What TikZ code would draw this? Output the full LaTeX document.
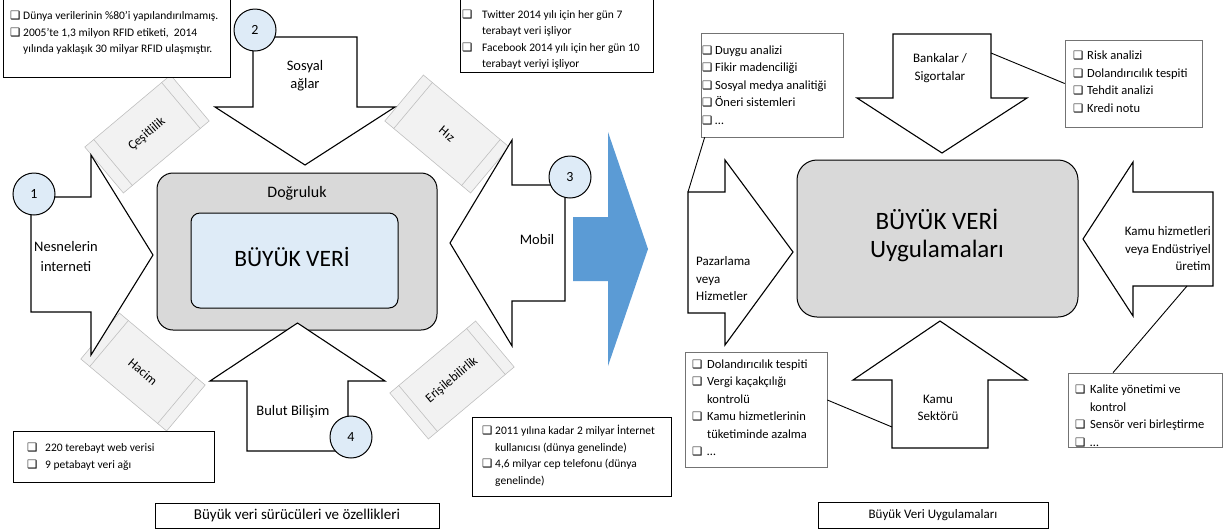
\documentclass[tikz,border=0pt]{standalone}
\usepackage{fontspec}
\setmainfont{Carlito}
\newfontfamily\symf{DejaVu Sans}
\usetikzlibrary{calc,shadows}

\definecolor{coregray}{HTML}{D9D9D9}
\definecolor{paleblue}{HTML}{DEEBF7}
\definecolor{tabfill}{HTML}{F2F2F2}
\definecolor{tabedge}{HTML}{BFBFBF}
\definecolor{flowblue}{HTML}{5B9BD5}

\newcommand\fs[2]{\fontsize{#1}{#2}\selectfont}
\newcommand\chk[1][13pt]{\makebox[#1][l]{\fontsize{11.5}{11.5}\symf ❑}}
\newcommand\ind[1][13pt]{\hspace*{#1}}

\begin{document}
\begin{tikzpicture}[x=1pt,y=-1pt,
  shapearrow/.style={draw=black,line width=1.1pt,fill=white,line join=miter},
  numdisc/.style={circle,draw=black,line width=1pt,fill=paleblue,minimum size=42pt,inner sep=0pt,font=\fs{14}{14}},
  tab/.style={draw=tabedge,line width=0.6pt,fill=tabfill,minimum width=112pt,minimum height=60pt,inner sep=0pt,font=\fs{13}{13}},
  tabbar/.style={draw=tabedge,line width=0.6pt},
  plainbox/.style={draw=black,line width=0.7pt,fill=white,inner sep=0pt},
  shadebox/.style={draw=black!55,line width=0.7pt,fill=white,inner sep=0pt,
    drop shadow={shadow xshift=1.2pt,shadow yshift=-1.2pt,fill=black!60,opacity=0.8}},
  smalllist/.style={anchor=west,align=left,inner sep=0pt,font=\fs{11.5}{16.5}},
  biglist/.style={anchor=west,align=left,inner sep=0pt,font=\fs{12.5}{17.5}},
  leftlabel/.style={align=center,inner sep=0pt,font=\fs{14.5}{20}},
  rightlabel/.style={inner sep=0pt,font=\fs{13}{17.5}},
  callout/.style={draw=black,line width=0.9pt},
  capbox/.style={draw=black,line width=0.7pt,fill=white,inner sep=0pt}
]
\useasboundingbox (0,0) rectangle (1225,531);

% ---------------- left: drivers and properties ----------------
% tilted property tabs
\node[tab,rotate=40]  (cesit)  at (147,134) {Çeşitlilik};
\node[tab,rotate=-40] (hiz)    at (447,134) {Hız};
\node[tab,rotate=-40] (hacim)  at (143,372) {Hacim};
\node[tab,rotate=40]  (erisim) at (452,380) {Erişilebilirlik};
\foreach \t in {cesit,hiz,hacim,erisim}{
  \draw[tabbar] ($(\t.north west)!12pt!(\t.north east)$) -- ($(\t.south west)!12pt!(\t.south east)$);
  \draw[tabbar] ($(\t.north east)!12pt!(\t.north west)$) -- ($(\t.south east)!12pt!(\t.south west)$);
}

% core block
\node[draw=black,line width=1pt,rounded corners=16pt,fill=coregray,minimum width=280pt,minimum height=157pt] (core) at (297,251.5) {};
\node[inner sep=0pt,font=\fs{16}{16}] (dogru) at (297,193) {Doğruluk};
\node[draw=black,line width=1pt,rounded corners=9pt,fill=paleblue,minimum width=207pt,minimum height=95pt] (bigdata) at (294.5,260.5) {};
\node[inner sep=0pt,font=\fs{23.5}{23.5}] (bigdatatxt) at (292,257) {BÜYÜK VERİ};

% four driver arrows
\draw[shapearrow] (31,197) -- (91,197) -- (91,155) -- (153,255) -- (91,355) -- (91,312) -- (31,312) -- cycle;
\draw[shapearrow] (253,37) -- (357,37) -- (357,107) -- (395,107) -- (305,165) -- (215,107) -- (253,107) -- cycle;
\draw[shapearrow] (565,185) -- (565,301) -- (512,301) -- (512,346) -- (450,243) -- (512,140) -- (512,185) -- cycle;
\draw[shapearrow] (247,451) -- (348,451) -- (348,381) -- (385,381) -- (297.5,323) -- (210,381) -- (247,381) -- cycle;

\node[leftlabel] (nesne) at (66,257) {Nesnelerin\\interneti};
\node[leftlabel,font=\fs{14.5}{18}] (sosyal) at (305,76) {Sosyal\\ağlar};
\node[leftlabel] (mobil) at (537,240) {Mobil};
\node[leftlabel] (bulut) at (293,412) {Bulut Bilişim};

\node[numdisc] (n1) at (34,194) {1};
\node[numdisc] (n2) at (255,30) {2};
\node[numdisc] (n3) at (570,177) {3};
\node[numdisc] (n4) at (351,437) {4};

% fact boxes
\node[plainbox,minimum width=227pt,minimum height=90pt] (tlbox) at (116.5,32) {};
\node[smalllist] (tltxt) at (10,33) {\chk Dünya verilerinin \%80'i yapılandırılmamış.\\
  \chk 2005'te 1,3 milyon RFID etiketi,\ \ 2014\\
  \ind yılında yaklaşık 30 milyar RFID ulaşmıştır.};
\node[plainbox,minimum width=193pt,minimum height=80pt] (twbox) at (556.5,32) {};
\node[smalllist] (twtxt) at (462,40) {\chk[20pt]Twitter 2014 yılı için her gün 7\\
  \ind[20pt]terabayt veri işliyor\\
  \chk[20pt]Facebook 2014 yılı için her gün 10\\
  \ind[20pt]terabayt veriyi işliyor};
\node[plainbox,minimum width=201pt,minimum height=51pt] (webbox) at (113.5,456.5) {};
\node[smalllist] (webtxt) at (27,457) {\chk[18pt]220 terebayt web verisi\\
  \chk[18pt]9 petabayt veri ağı};
\node[plainbox,minimum width=199pt,minimum height=79pt] (netbox) at (571.5,456.5) {};
\node[smalllist] (nettxt) at (482,456) {\chk 2011 yılına kadar 2 milyar İnternet\\
  \ind kullanıcısı (dünya genelinde)\\
  \chk 4,6 milyar cep telefonu (dünya\\
  \ind genelinde)};

\node[capbox,minimum width=284pt,minimum height=25pt,font=\fs{15}{15}] (capleft) at (297,515.5) {Büyük veri sürücüleri ve özellikleri};

% middle flow arrow
\fill[flowblue] (573,217) -- (608,217) -- (608,132) -- (648,249) -- (608,366) -- (608,281) -- (573,281) -- cycle;

% ---------------- right: applications ----------------
\node[draw=black,line width=1pt,rounded corners=20pt,fill=coregray,minimum width=281pt,minimum height=157pt] (apps) at (937.5,238.5) {};
\node[inner sep=0pt,align=center,font=\fs{25}{28}] (appstxt) at (937,235) {BÜYÜK VERİ\\Uygulamaları};

\draw[shapearrow] (688,192) coordinate (pzcorner) -- (725,192) -- (725,160) -- (793,252) -- (725,345) -- (725,313) -- (688,313) -- cycle;
\draw[shapearrow] (893,34) -- (991,34) -- (991,98) -- (1027,98) -- (942,153) -- (857,98) -- (893,98) -- cycle;
\draw[shapearrow] (1213,192) -- (1213,286) -- (1133,286) -- (1133,316) -- (1083,239) -- (1133,162) -- (1133,192) -- cycle;
\draw[shapearrow] (892,448) -- (988,448) -- (988,380) -- (1027,380) -- (940,321) -- (853,380) -- (892,380) -- cycle;
\coordinate (bkside) at (991,53);
\coordinate (khfoot) at (1187,286);
\coordinate (ksside) at (892,427);

\node[rightlabel,anchor=west,align=left] (pazar) at (696,279) {Pazarlama\\veya\\Hizmetler};
\node[rightlabel,align=center] (banka) at (940,68) {Bankalar /\\Sigortalar};
\node[rightlabel,anchor=east,align=right] (kamuh) at (1211,249) {Kamu hizmetleri\\veya Endüstriyel\\üretim};
\node[rightlabel,align=center] (kamus) at (938,408) {Kamu\\Sektörü};

% application lists
\node[shadebox,minimum width=142pt,minimum height=104pt] (duygu) at (772,85) {};
\node[biglist] (duygutxt) at (702,85) {\chk Duygu analizi\\
  \chk Fikir madenciliği\\
  \chk Sosyal medya analitiği\\
  \chk Öneri sistemleri\\
  \chk …};
\node[shadebox,minimum width=137pt,minimum height=87pt] (risk) at (1133.5,83.5) {};
\node[biglist] (risktxt) at (1073,82) {\chk[14pt]Risk analizi\\
  \chk[14pt]Dolandırıcılık tespiti\\
  \chk[14pt]Tehdit analizi\\
  \chk[14pt]Kredi notu};
\node[shadebox,minimum width=142pt,minimum height=115pt] (kamulist) at (756,409.5) {};
\node[biglist] (kamulisttxt) at (692,408) {\chk[15pt]Dolandırıcılık tespiti\\
  \chk[15pt]Vergi kaçakçılığı\\
  \ind[15pt]kontrolü\\
  \chk[15pt]Kamu hizmetlerinin\\
  \ind[15pt]tüketiminde azalma\\
  \chk[15pt]…};
\node[shadebox,minimum width=154pt,minimum height=74pt] (kalite) at (1145,410) {};
\node[biglist] (kalitetxt) at (1075,416) {\chk[15pt]Kalite yönetimi ve\\
  \ind[15pt]kontrol\\
  \chk[15pt]Sensör veri birleştirme\\
  \chk[15pt]…};

% callout lines
\draw[callout] ($(duygu.south west)+(4,0)$) -- (pzcorner);
\draw[callout] (bkside) -- (risk.west);
\draw[callout] (khfoot) -- ($(kalite.north)+(-32,0)$);
\draw[callout] (ksside) -- ($(kamulist.east)+(0,-9.5)$);

\node[capbox,minimum width=230pt,minimum height=26pt,font=\fs{13}{13}] (capright) at (933,515) {Büyük Veri Uygulamaları};
\end{tikzpicture}
\end{document}
